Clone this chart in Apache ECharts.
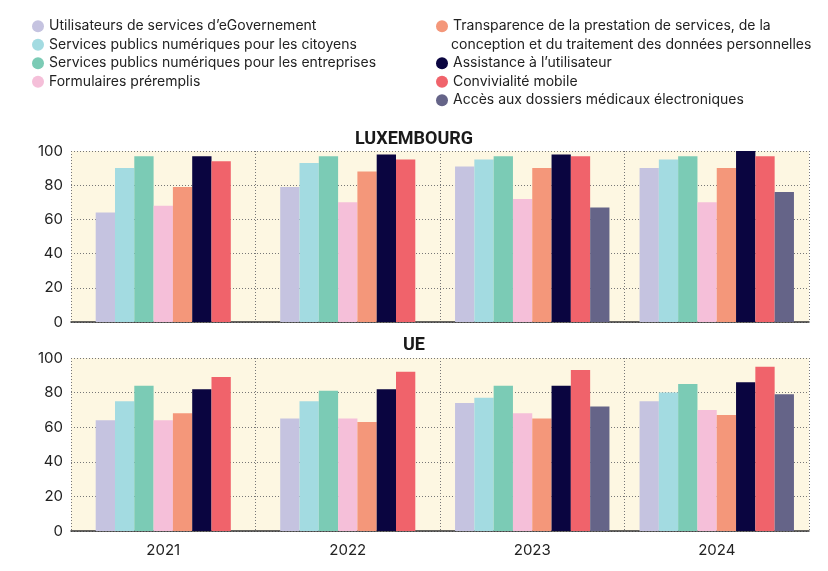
<!DOCTYPE html>
<html>
<head>
<meta charset="utf-8">
<script src="https://cdn.jsdelivr.net/npm/echarts@6/dist/echarts.min.js"></script>
<style>
  html, body { margin: 0; padding: 0; background: #fff; }
  #chart { width: 828px; height: 571px; }
</style>
</head>
<body>
<div id="chart"></div>
<script>
// années
const years = ['2021', '2022', '2023', '2024'];
const seriesNames = [
  'Utilisateurs de services d’eGovernement',
  'Services publics numériques pour les citoyens',
  'Services publics numériques pour les entreprises',
  'Formulaires préremplis',
  'Transparence de la prestation de services, de la',
  'Assistance à l’utilisateur',
  'Convivialité mobile',
  'Accès aux dossiers médicaux électroniques'
];
const colors = ['#c5c3e0', '#a3dbe1', '#7bcbb5', '#f5bfd9', '#f4977a', '#0a0540', '#f0636b', '#656488'];
const yTicks = [0, 20, 40, 60, 80, 100];

// Luxembourg
const luxEgov = [64, 79, 91, 90];
const luxCitoyens = [90, 93, 95, 95];
const luxEntreprises = [97, 97, 97, 97];
const luxFormulaires = [68, 70, 72, 70];
const luxTransparence = [79, 88, 90, 90];
const luxAssistance = [97, 98, 98, 100];
const luxMobile = [94, 95, 97, 97];
const luxDossiers = [null, null, 67, 76];

// UE
const ueEgov = [64, 65, 74, 75];
const ueCitoyens = [75, 75, 77, 80];
const ueEntreprises = [84, 81, 84, 85];
const ueFormulaires = [64, 65, 68, 70];
const ueTransparence = [68, 63, 65, 67];
const ueAssistance = [82, 82, 84, 86];
const ueMobile = [89, 92, 93, 95];
const ueDossiers = [null, null, 72, 79];

const panels = [
  { title: 'LUXEMBOURG', data: [luxEgov, luxCitoyens, luxEntreprises, luxFormulaires, luxTransparence, luxAssistance, luxMobile, luxDossiers] },
  { title: 'UE', data: [ueEgov, ueCitoyens, ueEntreprises, ueFormulaires, ueTransparence, ueAssistance, ueMobile, ueDossiers] }
];

const font = 'Inter, "Noto Sans", sans-serif';
const titleFont = 'Roboto, sans-serif';
const grids = [
  { left: 71, right: 19, top: 151, height: 171 },
  { left: 71, right: 19, top: 358, height: 173 }
];

const xAxes = [];
const yAxes = [];
const series = [];
panels.forEach((p, gi) => {
  // années où toutes les séries ont une valeur (8 barres) ou non (7 barres)
  const full = years.map((y, i) => p.data.every(d => d[i] != null));
  [false, true].forEach(isFull => {
    const xi = xAxes.length;
    xAxes.push({
      type: 'category', gridIndex: gi, data: years,
      show: !isFull,
      axisLine: { show: true, lineStyle: { color: '#333', width: 1.5 } },
      axisTick: { show: false },
      axisLabel: { show: gi === 1, color: '#222', fontSize: 15, fontFamily: font, margin: 12 },
      splitLine: { show: !isFull, lineStyle: { color: '#777', type: [1, 2], width: 1 } }
    });
    p.data.forEach((vals, si) => {
      // série absente de ce groupe d'années
      if (vals.every((v, i) => full[i] !== isFull || v == null)) return;
      series.push({
        name: seriesNames[si], type: 'bar',
        xAxisIndex: xi, yAxisIndex: gi,
        barWidth: 19.3, barGap: '0%',
        itemStyle: { color: colors[si] },
        data: vals.map((v, i) => (full[i] === isFull ? v : null))
      });
    });
  });
  yAxes.push({
    type: 'value', gridIndex: gi, min: 0, max: 100, interval: 20,
    axisLine: { show: false }, axisTick: { show: false },
    axisLabel: { color: '#222', fontSize: 15, fontFamily: font, margin: 8 },
    splitLine: { lineStyle: { color: '#777', type: [1, 2], width: 1 } }
  });
});

const legendText = { fontSize: 14, color: '#222', fontFamily: font, lineHeight: 18.5 };
const option = {
  animation: false,
  title: [
    { text: panels[0].title, left: 'center', top: 125, textStyle: { fontSize: 18, fontWeight: 'bold', color: '#1a1a1a', fontFamily: titleFont } },
    { text: panels[1].title, left: 'center', top: 331, textStyle: { fontSize: 18, fontWeight: 'bold', color: '#1a1a1a', fontFamily: titleFont } },
    { text: 'conception et du traitement des données personnelles', left: 451, top: 36, padding: 0, textStyle: Object.assign({ fontWeight: 'normal' }, legendText) }
  ],
  legend: [
    { data: seriesNames.slice(0, 4), orient: 'vertical', left: 32, top: 17, padding: 0, itemGap: 0, itemWidth: 12, itemHeight: 12, icon: 'circle', textStyle: legendText },
    { data: seriesNames.slice(4, 5), orient: 'vertical', left: 436, top: 17, padding: 0, itemGap: 0, itemWidth: 12, itemHeight: 12, icon: 'circle', textStyle: legendText },
    { data: seriesNames.slice(5), orient: 'vertical', left: 436, top: 54, padding: 0, itemGap: 0, itemWidth: 12, itemHeight: 12, icon: 'circle', textStyle: legendText }
  ],
  grid: grids.map(g => Object.assign({ show: true, backgroundColor: '#fdf7e2', borderWidth: 0 }, g)),
  xAxis: xAxes,
  yAxis: yAxes,
  series: series
};

const myChart = echarts.init(document.getElementById('chart'));
myChart.setOption(option);
</script>
</body>
</html>
